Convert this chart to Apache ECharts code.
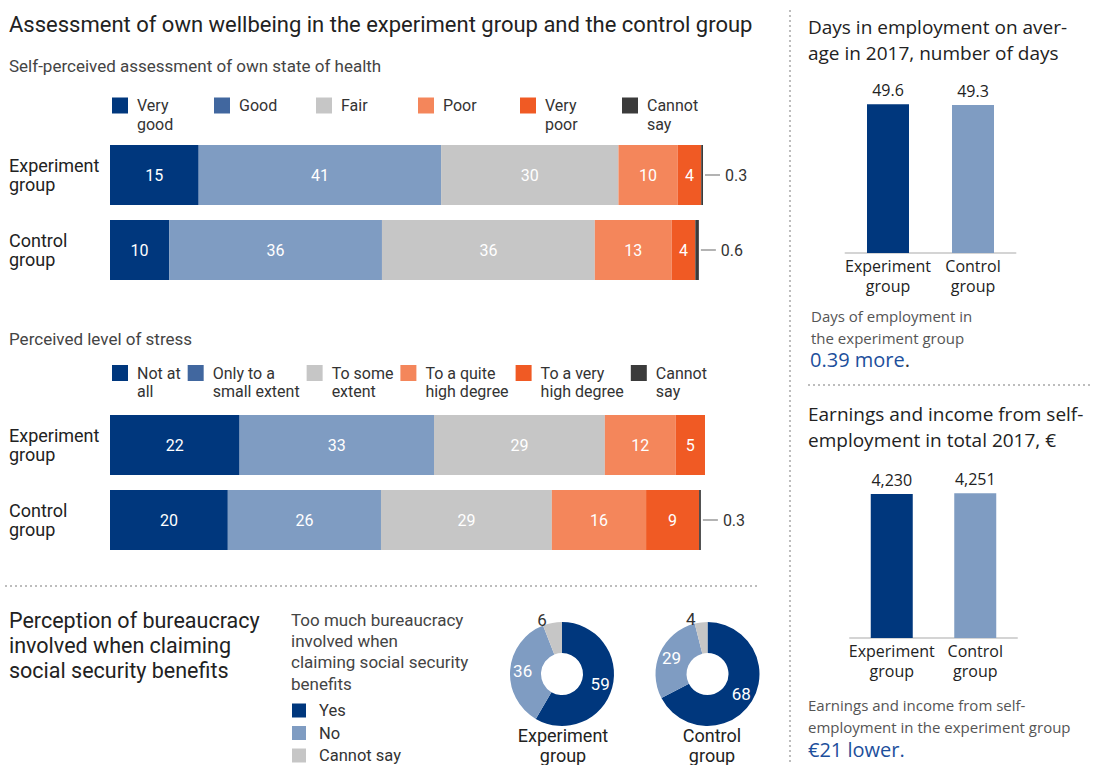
<!DOCTYPE html>
<html>
<head>
<meta charset="utf-8">
<script src="https://cdn.jsdelivr.net/npm/echarts@6/dist/echarts.min.js"></script>
<style>
html,body{margin:0;padding:0;background:#fff;}
#c{width:1104px;height:765px;}
</style>
</head>
<body>
<div id="c"></div>
<script>
// ---------- data ----------
const groups = ['Experiment\ngroup', 'Control\ngroup'];

const healthCats = ['Very\ngood', 'Good', 'Fair', 'Poor', 'Very\npoor', 'Cannot\nsay'];
const healthExp = [15, 41, 30, 10, 4, 0.3];
const healthCtl = [10, 36, 36, 13, 4, 0.6];

const stressCats = ['Not at\nall', 'Only to a\nsmall extent', 'To some\nextent', 'To a quite\nhigh degree', 'To a very\nhigh degree', 'Cannot\nsay'];
const stressExp = [22, 33, 29, 12, 5, 0];
const stressCtl = [20, 26, 29, 16, 9, 0.3];

const bureauCats = ['Yes', 'No', 'Cannot say'];
const bureauExp = [59, 36, 6];
const bureauCtl = [68, 29, 4];

const barCats = ['Experiment\ngroup', 'Control\ngroup'];
const daysVals = [49.6, 49.3];
const earnVals = [4230, 4251];

// ---------- styles ----------
const segColors = ['#00377d', '#7f9cc2', '#c6c6c6', '#f4865b', '#f05a24', '#3b3b3b'];
const legendColors = ['#00377d', '#41679f', '#c6c6c6', '#f4865b', '#f05a24', '#3b3b3b'];
const pieColors = ['#00377d', '#7f9cc2', '#c6c6c6'];
const barColors = ['#00377d', '#7f9cc2'];
const LF = 'Roboto, "Noto Sans", sans-serif';
const RF = '"Open Sans", "Noto Sans", sans-serif';

const chart = echarts.init(document.getElementById('c'), null, {renderer: 'svg'});

function stackSeries(cats, exp, ctl, stack, xi) {
  return cats.map((name, i) => {
    const last = i === cats.length - 1;
    return {
      type: 'bar', name: name, stack: stack,
      xAxisIndex: xi, yAxisIndex: xi,
      barWidth: 60,
      data: [exp[i], ctl[i]],
      itemStyle: {color: segColors[i]},
      label: last ? {
        show: true, position: 'right', distance: 2,
        formatter: p => p.value > 0 ? '{l|}{v|' + p.value + '}' : '',
        rich: {
          l: {width: 15, height: 1, backgroundColor: '#666'},
          v: {fontFamily: LF, fontSize: 16, color: '#333', padding: [0, 0, 0, 5]}
        }
      } : {
        show: true, position: 'inside', color: '#fff',
        fontFamily: LF, fontSize: 16,
        formatter: p => p.value > 0 ? String(p.value) : ''
      }
    };
  });
}

// three-line legend text: blank first line so the first real line sits beside the icon
const legendFmt = n => ' \n' + (n.indexOf('\n') >= 0 ? n : n + '\n ');

function vBar(vals, xi, fmt) {
  return {
    type: 'bar', xAxisIndex: xi, yAxisIndex: xi, barWidth: 42,
    data: vals.map((v, i) => ({value: v, itemStyle: {color: barColors[i]}})),
    label: {show: true, position: 'top', distance: 6, fontFamily: RF, fontSize: 16, color: '#222', formatter: fmt}
  };
}

function pieSeries(vals, cx) {
  return {
    type: 'pie', center: [cx, 674], radius: [21, 52],
    startAngle: 90, clockwise: true, silent: true,
    data: bureauCats.map((n, i) => ({
      name: n, value: vals[i], itemStyle: {color: pieColors[i]},
      label: i < 2 ? {position: 'inside', color: '#fff'} : {position: 'outside', color: '#333'},
      labelLine: {show: false}
    })),
    label: {show: true, formatter: '{c}', fontFamily: LF, fontSize: 17},
    labelLine: {show: false, length: 3, length2: 0}
  };
}

function catAxisV(gi) {
  return {
    type: 'category', gridIndex: gi, data: barCats,
    axisLine: {show: true, lineStyle: {color: '#d4d4d4', width: 2}},
    axisTick: {show: false},
    axisLabel: {interval: 0, fontFamily: RF, fontSize: 16, color: '#222', lineHeight: 20, margin: 3}
  };
}

const option = {
  animation: false,
  grid: [
    {left: 110, width: 593, top: 137.5, height: 150},
    {left: 110, width: 595, top: 407.5, height: 150},
    {left: 845.5, width: 170, top: 88, height: 165},
    {left: 850, width: 167, top: 478, height: 160}
  ],
  xAxis: [
    {type: 'value', gridIndex: 0, min: 0, max: 100.3, show: false},
    {type: 'value', gridIndex: 1, min: 0, max: 101, show: false},
    catAxisV(2),
    catAxisV(3)
  ],
  yAxis: [
    {type: 'category', gridIndex: 0, data: groups, inverse: true,
     axisLine: {show: false}, axisTick: {show: false},
     axisLabel: {align: 'left', margin: 101, fontFamily: LF, fontSize: 18, lineHeight: 19, color: '#222'}},
    {type: 'category', gridIndex: 1, data: groups, inverse: true,
     axisLine: {show: false}, axisTick: {show: false},
     axisLabel: {align: 'left', margin: 101, fontFamily: LF, fontSize: 18, lineHeight: 19, color: '#222'}},
    {type: 'value', gridIndex: 2, min: 0, max: 55, show: false},
    {type: 'value', gridIndex: 3, min: 0, max: 4700, show: false}
  ],
  legend: [
    {left: 112, top: 77, padding: 0, itemWidth: 16, itemHeight: 16, itemGap: 5,
     selectedMode: false, icon: 'rect', formatter: legendFmt,
     data: healthCats.map((n, i) => ({name: n, itemStyle: {color: legendColors[i]}})),
     textStyle: {fontFamily: LF, fontSize: 16, lineHeight: 19, color: '#333', width: 72, padding: [0, 0, 0, 4]}},
    {left: 112, top: 346, padding: 0, itemWidth: 16, itemHeight: 16, itemGap: 7,
     selectedMode: false, icon: 'rect', formatter: legendFmt,
     data: stressCats.map((n, i) => ({name: n, itemStyle: {color: legendColors[i]}})),
     textStyle: {fontFamily: LF, fontSize: 16, lineHeight: 18, color: '#333', padding: [0, 0, 0, 4]}},
    {left: 292, top: 702, height: 90, padding: 0, orient: 'vertical', itemWidth: 14, itemHeight: 14, itemGap: 5.5,
     selectedMode: false, icon: 'rect',
     data: bureauCats,
     textStyle: {fontFamily: LF, fontSize: 16.5, lineHeight: 14, color: '#333', padding: [0, 0, 0, 8]}}
  ],
  series: [
    ...stackSeries(healthCats, healthExp, healthCtl, 'health', 0),
    ...stackSeries(stressCats, stressExp, stressCtl, 'stress', 1),
    vBar(daysVals, 2, p => String(p.value)),
    vBar(earnVals, 3, p => p.value.toLocaleString('en-US')),
    pieSeries(bureauExp, 562),
    pieSeries(bureauCtl, 707.5)
  ],
  graphic: [
    // separators
    {type: 'line', shape: {x1: 5, y1: 586, x2: 760, y2: 586}, style: {stroke: '#bdbdbd', lineWidth: 2, lineDash: [2, 3]}, silent: true},
    {type: 'line', shape: {x1: 790, y1: 10, x2: 790, y2: 765}, style: {stroke: '#bdbdbd', lineWidth: 2, lineDash: [2, 3]}, silent: true},
    {type: 'line', shape: {x1: 808, y1: 385, x2: 1092, y2: 385}, style: {stroke: '#bdbdbd', lineWidth: 2, lineDash: [2, 3]}, silent: true},
    // left texts
    {type: 'text', left: 9, top: 13, style: {text: 'Assessment of own wellbeing in the experiment group and the control group', font: '22px ' + LF, fill: '#222'}},
    {type: 'text', left: 9, top: 57, style: {text: 'Self-perceived assessment of own state of health', font: '17px ' + LF, fill: '#444'}},
    {type: 'text', left: 9, top: 330, style: {text: 'Perceived level of stress', font: '17px ' + LF, fill: '#444'}},
    {type: 'text', left: 9, top: 608, style: {text: 'Perception of bureaucracy\ninvolved when claiming\nsocial security benefits', font: '21.5px ' + LF, lineHeight: 25, fill: '#222'}},
    {type: 'text', left: 291, top: 609, style: {text: 'Too much bureaucracy\ninvolved when\nclaiming social security\nbenefits', font: '17px ' + LF, lineHeight: 21.3, fill: '#444'}},
    {type: 'text', x: 563, y: 725, style: {text: 'Experiment\ngroup', font: '18px ' + LF, lineHeight: 20, fill: '#222', align: 'center'}},
    {type: 'text', x: 712, y: 725, style: {text: 'Control\ngroup', font: '18px ' + LF, lineHeight: 20, fill: '#222', align: 'center'}},
    // right texts
    {type: 'text', left: 808, top: 14, style: {text: 'Days in employment on aver-\nage in 2017, number of days', font: '19px ' + RF, lineHeight: 26, fill: '#222'}},
    {type: 'text', left: 811, top: 305, style: {text: 'Days of employment in\nthe experiment group', font: '15px ' + RF, lineHeight: 22, fill: '#555'}},
    {type: 'text', left: 810, top: 349, style: {text: '{a|0.39 more}{b|.}', rich: {a: {fontFamily: RF, fontSize: 20, fill: '#1d4f9c'}, b: {fontFamily: RF, fontSize: 20, fill: '#333'}}}},
    {type: 'text', left: 808, top: 401, style: {text: 'Earnings and income from self-\nemployment in total 2017, \u20ac', font: '19px ' + RF, lineHeight: 26, fill: '#222'}},
    {type: 'text', left: 808, top: 694, style: {text: 'Earnings and income from self-\nemployment in the experiment group', font: '15px ' + RF, lineHeight: 22, fill: '#555'}},
    {type: 'text', left: 808, top: 739, style: {text: '\u20ac21 lower.', font: '20px ' + RF, fill: '#1d4f9c'}}
  ]
};
chart.setOption(option);
</script>
</body>
</html>
